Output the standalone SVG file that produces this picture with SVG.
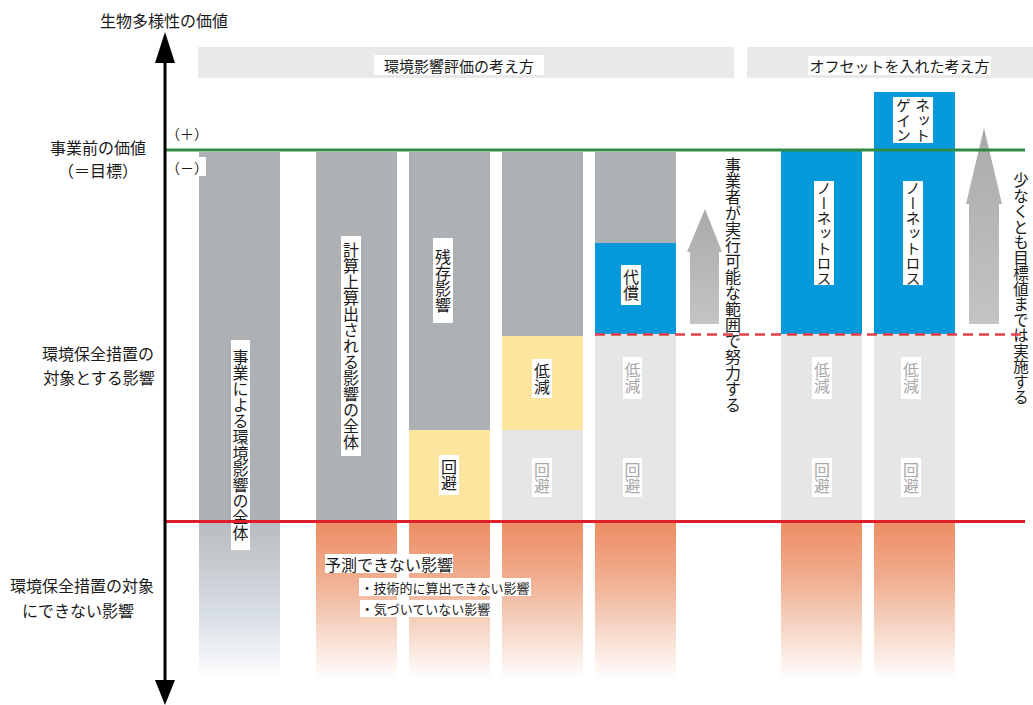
<svg xmlns="http://www.w3.org/2000/svg" width="1033" height="705" viewBox="0 0 1033 705">
<style>
text{font-family:"Noto Sans CJK JP","Noto Sans",sans-serif;fill:#1a1a1a}
.h{font-size:16px;text-anchor:middle;dominant-baseline:central}
.v{font-size:16px;writing-mode:vertical-rl;text-anchor:middle}
.vs{font-size:15px;writing-mode:vertical-rl;text-anchor:middle}
.g{fill:#a8a8a8}
.bx{fill:#ffffff}
.gray{fill:#aeb1b4}
.light{fill:#e5e7e7}
.yel{fill:#fde59f}
.blue{fill:#0599dc}
.hdr{fill:#e8eaea}
</style>
<defs>
<linearGradient id="og" x1="0" y1="0" x2="0" y2="1">
<stop offset="0" stop-color="#ec8d63"/>
<stop offset="0.35" stop-color="#f0ad8e"/>
<stop offset="0.75" stop-color="#f8e0d3"/>
<stop offset="1" stop-color="#ffffff"/>
</linearGradient>
<linearGradient id="bg" x1="0" y1="0" x2="0" y2="1">
<stop offset="0" stop-color="#b8bcc0"/>
<stop offset="0.6" stop-color="#d9dfe6"/>
<stop offset="1" stop-color="#ffffff"/>
</linearGradient>
<linearGradient id="ag" x1="0" y1="0" x2="0" y2="1">
<stop offset="0" stop-color="#a9aba8"/>
<stop offset="1" stop-color="#c3c5c2"/>
</linearGradient>
</defs>
<rect width="1033" height="705" fill="#ffffff"/>

<g id="headers">
<rect class="hdr" x="198" y="47" width="536" height="31"/>
<rect class="bx" x="374" y="55" width="170" height="20"/>
<text class="h" x="459" y="65" style="font-size:15px">環境影響評価の考え方</text>
<rect class="hdr" x="747" y="47" width="286" height="31"/>
<rect class="bx" x="808" y="56" width="183" height="19"/>
<text class="h" x="899.5" y="65.5" style="font-size:15px">オフセットを入れた考え方</text>
</g>

<g id="col1">
<rect class="gray" x="199" y="152" width="81" height="370"/>
<rect fill="url(#bg)" x="199" y="522" width="81" height="158"/>
<rect class="bx" x="231" y="340" width="19" height="210"/>
<text class="v" x="240.5" y="445">事業による環境影響の全体</text>
</g>

<g id="col2">
<rect class="gray" x="316" y="152" width="81" height="370"/>
<rect fill="url(#og)" x="316" y="522" width="81" height="158"/>
<rect class="bx" x="341" y="236" width="20" height="220"/>
<text class="v" x="351" y="346">計算上算出される影響の全体</text>
</g>

<g id="col3">
<rect class="gray" x="409" y="152" width="81" height="278"/>
<rect class="yel" x="409" y="430" width="81" height="92"/>
<rect fill="url(#og)" x="409" y="522" width="81" height="158"/>
<rect class="bx" x="433" y="238" width="20" height="85"/>
<text class="v" x="443" y="280.5">残存影響</text>
<rect class="bx" x="439" y="455" width="20" height="40"/>
<text class="v" x="449" y="475">回避</text>
</g>

<g id="col4">
<rect class="gray" x="502" y="152" width="81" height="184"/>
<rect class="yel" x="502" y="336" width="81" height="94"/>
<rect class="light" x="502" y="430" width="81" height="92"/>
<rect fill="url(#og)" x="502" y="522" width="81" height="158"/>
<rect class="bx" x="532" y="359" width="20" height="39"/>
<text class="v" x="542" y="378.5">低減</text>
<rect class="bx" x="532" y="458" width="20" height="39"/>
<text class="v g" x="542" y="477.5">回避</text>
</g>

<g id="col5">
<rect class="gray" x="595" y="152" width="81" height="91"/>
<rect class="blue" x="595" y="243" width="81" height="91"/>
<rect class="light" x="595" y="334" width="81" height="188"/>
<rect fill="url(#og)" x="595" y="522" width="81" height="158"/>
<rect class="bx" x="621" y="265" width="20" height="40"/>
<text class="v" x="631" y="285">代償</text>
<rect class="bx" x="623" y="357" width="19" height="42"/>
<text class="v g" x="632.5" y="378">低減</text>
<rect class="bx" x="623" y="458" width="19" height="39"/>
<text class="v g" x="632.5" y="477.5">回避</text>
</g>

<g id="arrow1">
<polygon fill="url(#ag)" points="705,209 722,252 719,252 719,324 690,324 690,252 687,252"/>
<text class="v" x="733" y="285">事業者が実行可能な範囲で努力する</text>
</g>

<g id="col6">
<rect class="blue" x="781" y="151" width="81" height="183"/>
<rect class="light" x="781" y="334" width="81" height="188"/>
<rect fill="url(#og)" x="781" y="522" width="81" height="158"/>
<rect class="bx" x="814" y="181" width="20" height="104"/>
<text class="vs" x="824" y="233">ノーネットロス</text>
<rect class="bx" x="812" y="357" width="20" height="42"/>
<text class="v g" x="822" y="378">低減</text>
<rect class="bx" x="812" y="458" width="20" height="39"/>
<text class="v g" x="822" y="477.5">回避</text>
</g>

<g id="col7">
<rect class="blue" x="874" y="92" width="81" height="242"/>
<rect class="light" x="874" y="334" width="81" height="188"/>
<rect fill="url(#og)" x="874" y="522" width="81" height="158"/>
<rect class="bx" x="893" y="97" width="40" height="46"/>
<text class="vs" x="922.5" y="120">ネット</text>
<text class="vs" x="903.5" y="120">ゲイン</text>
<rect class="bx" x="903" y="181" width="20" height="104"/>
<text class="vs" x="913" y="233">ノーネットロス</text>
<rect class="bx" x="901" y="357" width="20" height="42"/>
<text class="v g" x="911" y="378">低減</text>
<rect class="bx" x="901" y="458" width="20" height="39"/>
<text class="v g" x="911" y="477.5">回避</text>
</g>

<g id="arrow2">
<polygon fill="url(#ag)" points="984,128 1002,204 999,204 999,324 969,324 969,204 966,204"/>
<text class="v" x="1021" y="289" style="font-size:15.5px">少なくとも目標値までは実施する</text>
</g>

<g id="connectors">
<line x1="165" y1="150" x2="1025" y2="150" stroke="#2e8b45" stroke-width="3"/>
<line x1="595" y1="334.5" x2="1025" y2="334.5" stroke="#e8404a" stroke-width="2.5" stroke-dasharray="10,6"/>
<line x1="165" y1="521.5" x2="1025" y2="521.5" stroke="#e01f2a" stroke-width="3"/>
<line x1="165" y1="62" x2="165" y2="682" stroke="#000" stroke-width="3"/>
<polygon points="155,63 175,63 165,32" fill="#000"/>
<polygon points="155,680 175,680 165,705" fill="#000"/>
</g>

<g id="axis-labels">
<text class="h" x="164" y="20">生物多様性の価値</text>
<text class="h" x="187" y="133" style="font-size:14px">（＋）</text>
<rect class="bx" x="168" y="157" width="38" height="19"/>
<text class="h" x="187" y="166.5" style="font-size:14px">（－）</text>
<text class="h" x="98" y="147">事業前の価値</text>
<text class="h" x="98" y="170">（＝目標）</text>
<text class="h" x="98" y="353">環境保全措置の</text>
<text class="h" x="99" y="377">対象とする影響</text>
<text class="h" x="82" y="585">環境保全措置の対象</text>
<text class="h" x="78" y="610">にできない影響</text>
</g>

<g id="unpredictable">
<rect class="bx" x="325" y="554" width="128" height="19"/>
<text class="h" x="389" y="563.5">予測できない影響</text>
<rect class="bx" x="359" y="578" width="172" height="18"/>
<text class="h" x="445" y="587" style="font-size:13px">・技術的に算出できない影響</text>
<rect class="bx" x="360" y="600" width="131" height="17"/>
<text class="h" x="425.5" y="608.5" style="font-size:13px">・気づいていない影響</text>
</g>
</svg>
